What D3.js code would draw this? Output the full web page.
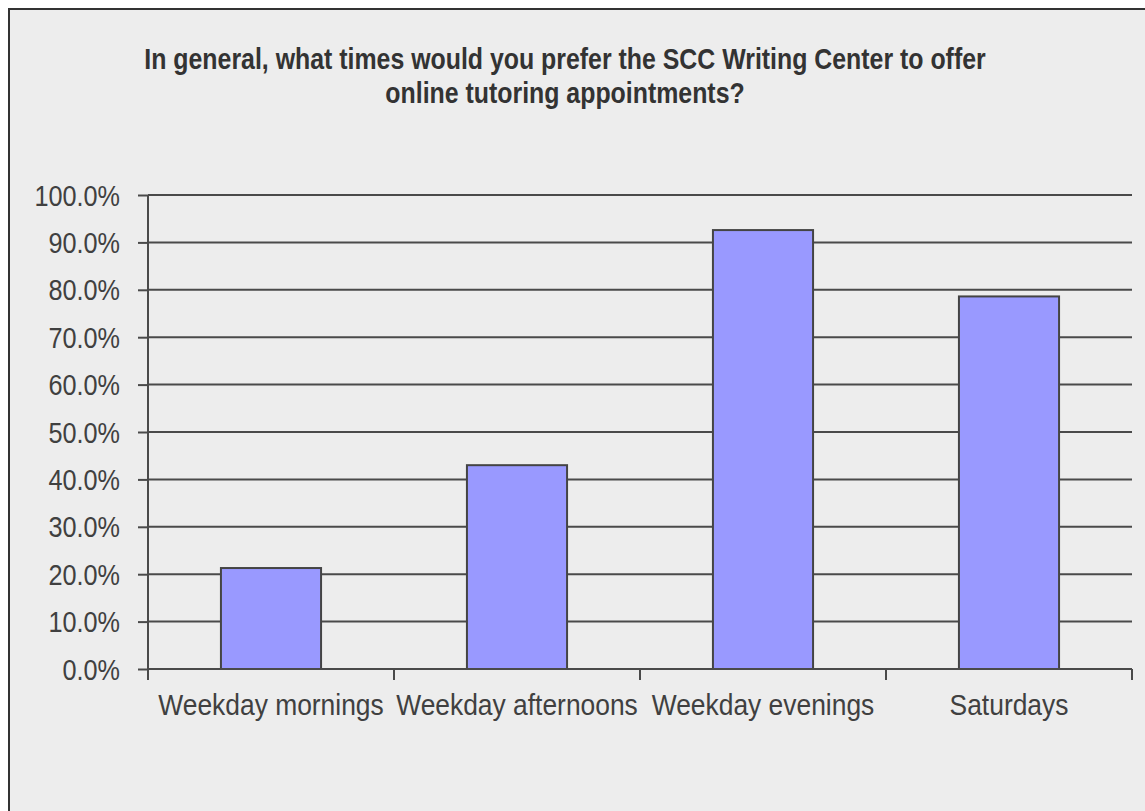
<!DOCTYPE html>
<html>
<head>
<meta charset="utf-8">
<script src="https://cdn.jsdelivr.net/npm/d3@7"></script>
<style>
  html, body { margin: 0; padding: 0; background: #ffffff; }
  svg { display: block; }
</style>
</head>
<body>
<svg id="chart" width="1145" height="811"></svg>
<script>
const categories = ["Weekday mornings", "Weekday afternoons", "Weekday evenings", "Saturdays"];
const values = [0.213, 0.430, 0.926, 0.786];
const yTicks = [0, 0.1, 0.2, 0.3, 0.4, 0.5, 0.6, 0.7, 0.8, 0.9, 1.0];
const titleLines = ["In general, what times would you prefer the SCC Writing Center to offer", "online tutoring appointments?"];

const svg = d3.select("#chart");
const W = 1145, H = 811;
const plot = { left: 148, right: 1132, top: 195, bottom: 669 };

// background panel with border (top/left visible)
svg.append("rect")
  .attr("x", 9).attr("y", 9)
  .attr("width", W + 20).attr("height", H + 20)
  .attr("fill", "#ededed")
  .attr("stroke", "#333333").attr("stroke-width", 2);

const x = d3.scaleBand().domain(categories).range([plot.left, plot.right]).padding(0);
const y = d3.scaleLinear().domain([0, 1]).range([plot.bottom, plot.top]);
const barW = x.bandwidth() * 0.407;

// gridlines
svg.append("g").selectAll("line").data(yTicks.filter(d => d > 0)).join("line")
  .attr("x1", plot.left).attr("x2", plot.right)
  .attr("y1", d => y(d)).attr("y2", d => y(d))
  .attr("stroke", "#4a4a4a").attr("stroke-width", 2);

// bars
svg.append("g").selectAll("rect").data(categories).join("rect")
  .attr("x", d => x(d) + (x.bandwidth() - barW) / 2)
  .attr("width", barW)
  .attr("y", (d, i) => y(values[i]))
  .attr("height", (d, i) => y(0) - y(values[i]))
  .attr("fill", "#9999ff")
  .attr("stroke", "#444444").attr("stroke-width", 2);

// y axis
const yAxis = svg.append("g").attr("transform", `translate(${plot.left},0)`)
  .call(d3.axisLeft(y).tickValues(yTicks).tickFormat(d3.format(".1%")).tickSize(10).tickPadding(0));
yAxis.select(".domain").attr("stroke", "#4a4a4a").attr("stroke-width", 2).attr("d", `M0,${plot.top}V${plot.bottom}`);
yAxis.selectAll(".tick line").attr("stroke", "#4a4a4a").attr("stroke-width", 2);
yAxis.selectAll(".tick text").each(function() {
  const t = d3.select(this);
  t.attr("x", null).attr("dy", null);
  t.attr("font-family", "'Liberation Sans', Arial, sans-serif")
   .attr("font-size", 29).attr("fill", "#404040")
   .attr("text-anchor", "end").attr("dominant-baseline", "central")
   .attr("transform", "translate(-28,0) scale(0.87,1)");
});

// x axis
const xAxis = svg.append("g").attr("transform", `translate(0,${plot.bottom})`);
xAxis.append("path")
  .attr("d", `M${plot.left},0H${plot.right}`)
  .attr("stroke", "#4a4a4a").attr("stroke-width", 2).attr("fill", "none");
const boundaries = categories.map(c => x(c)).concat([plot.right]);
xAxis.selectAll("line.b").data(boundaries).join("line")
  .attr("class", "b")
  .attr("x1", d => d).attr("x2", d => d)
  .attr("y1", 0).attr("y2", 11)
  .attr("stroke", "#4a4a4a").attr("stroke-width", 2);
xAxis.selectAll("text").data(categories).join("text")
  .attr("transform", d => `translate(${x(d) + x.bandwidth() / 2},46) scale(0.88,1)`)
  .attr("text-anchor", "middle")
  .attr("font-family", "'Liberation Sans', Arial, sans-serif")
  .attr("font-size", 30).attr("fill", "#404040")
  .text(d => d);

// title
const titleX = 565;
svg.append("g").selectAll("text").data(titleLines).join("text")
  .attr("transform", (d, i) => `translate(${titleX},${69 + i * 34}) scale(0.83,1)`)
  .attr("text-anchor", "middle")
  .attr("font-family", "'Liberation Sans', Arial, sans-serif")
  .attr("font-weight", "bold")
  .attr("font-size", 30).attr("fill", "#333333")
  .text(d => d);
</script>
</body>
</html>
